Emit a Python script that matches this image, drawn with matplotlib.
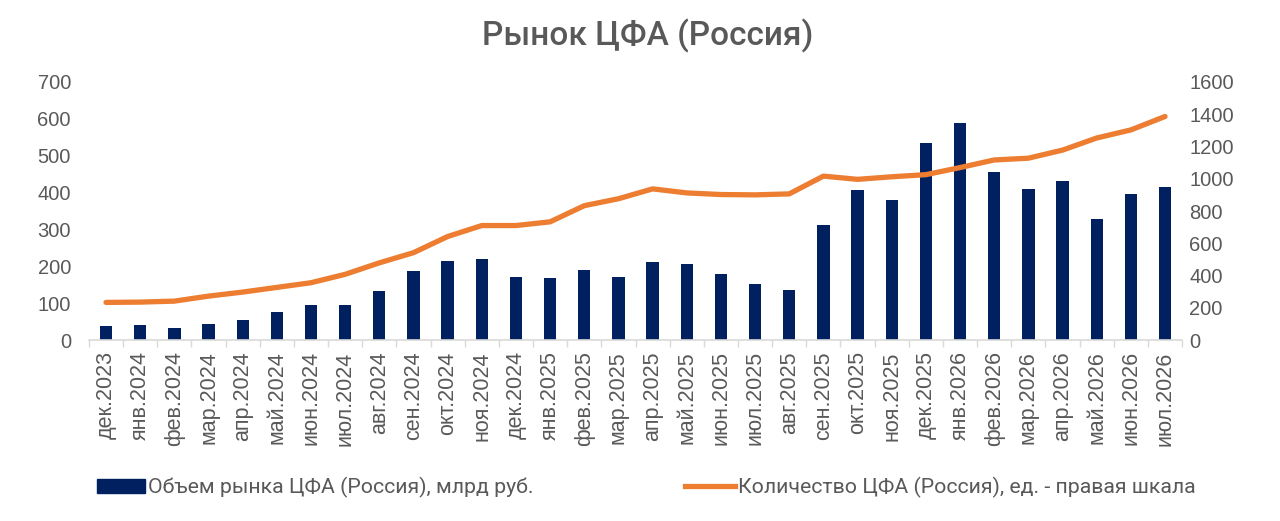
import matplotlib
matplotlib.use("Agg")
import matplotlib.pyplot as plt
import numpy as np
from matplotlib.lines import Line2D
from matplotlib.patches import Patch

months = ["дек.2023", "янв.2024", "фев.2024", "мар.2024", "апр.2024", "май.2024",
          "июн.2024", "июл.2024", "авг.2024", "сен.2024", "окт.2024", "ноя.2024",
          "дек.2024", "янв.2025", "фев.2025", "мар.2025", "апр.2025", "май.2025",
          "июн.2025", "июл.2025", "авг.2025", "сен.2025", "окт.2025", "ноя.2025",
          "дек.2025", "янв.2026", "фев.2026", "мар.2026", "апр.2026", "май.2026",
          "июн.2026", "июл.2026"]
volume = [39, 41, 34, 43, 56, 77, 95, 96, 132, 187, 215, 220,
          171, 168, 189, 172, 212, 207, 180, 151, 137, 312, 407, 380,
          534, 589, 455, 410, 431, 328, 395, 416]
count = [234, 236, 242, 273, 298, 327, 356, 408, 479, 542, 642, 710,
         710, 733, 833, 876, 937, 912, 902, 900, 906, 1016, 996, 1012,
         1025, 1069, 1116, 1127, 1177, 1252, 1302, 1385]
left_ticks = [0, 100, 200, 300, 400, 500, 600, 700]
right_ticks = [0, 200, 400, 600, 800, 1000, 1200, 1400, 1600]

bar_label = "Объем рынка ЦФА (Россия), млрд руб."
line_label = "Количество ЦФА (Россия), ед. - правая шкала"
title = "Рынок ЦФА (Россия)"

plt.rcParams['font.family'] = ['Liberation Sans', 'DejaVu Sans']
txt = "#595959"
navy = "#002060"
orange = "#ED7D31"

fig = plt.figure(figsize=(12.8, 5.21), dpi=100)
ax = fig.add_axes([0.0695, 0.347, 0.854, 0.496])
ax2 = ax.twinx()

x = np.arange(len(months))
ax.bar(x, volume, width=0.36, color=navy, zorder=2)
ax2.plot(x, count, color=orange, lw=3.8, solid_capstyle='round',
         solid_joinstyle='round', zorder=3)

ax.set_xlim(-0.5, len(months) - 0.5)
ax.set_ylim(0, 700)
ax2.set_ylim(0, 1600)
ax.set_yticks(left_ticks)
ax2.set_yticks(right_ticks)
ax.set_xticks(x)
ax.set_xticklabels(months, rotation=90, fontsize=15.5, color=txt)
ax.tick_params(axis='x', length=0, pad=8)
ax.set_xticks(np.arange(-0.5, len(months), 1.0), minor=True)
ax.tick_params(axis='x', which='minor', length=5, color="#d9d9d9", width=1)
ax.tick_params(axis='y', length=0, labelsize=14.5, labelcolor=txt, pad=13)
ax2.tick_params(axis='y', length=0, labelsize=14.5, labelcolor=txt, pad=5)

for a in (ax, ax2):
    for s in ('top', 'left', 'right'):
        a.spines[s].set_visible(False)
ax2.spines['bottom'].set_visible(False)
ax.spines['bottom'].set_color("#d9d9d9")
ax.spines['bottom'].set_linewidth(1.2)
ax.set_zorder(ax2.get_zorder() - 1)
ax.patch.set_visible(False)
ax2.set_zorder(2)

fig.text(0.506, 0.932, title, ha='center', va='center', fontsize=24,
         color=txt, family=['Roboto', 'DejaVu Sans'], fontweight='medium')

h1 = Patch(facecolor=navy, edgecolor=navy, label=bar_label)
h2 = Line2D([0], [0], color=orange, lw=3.8, label=line_label)
leg_font = {'family': ['Roboto', 'DejaVu Sans'], 'size': 15.3}
fig.legend(handles=[h1], loc='center left', bbox_to_anchor=(0.0758, 0.064),
           frameon=False, prop=leg_font, labelcolor=txt, handlelength=2.27,
           handletextpad=0.15, handleheight=0.62, borderpad=0, borderaxespad=0)
fig.legend(handles=[h2], loc='center left', bbox_to_anchor=(0.535, 0.064),
           frameon=False, prop=leg_font, labelcolor=txt, handlelength=2.37,
           handletextpad=0.15, borderpad=0, borderaxespad=0)

fig.savefig("out.png", dpi=100)
